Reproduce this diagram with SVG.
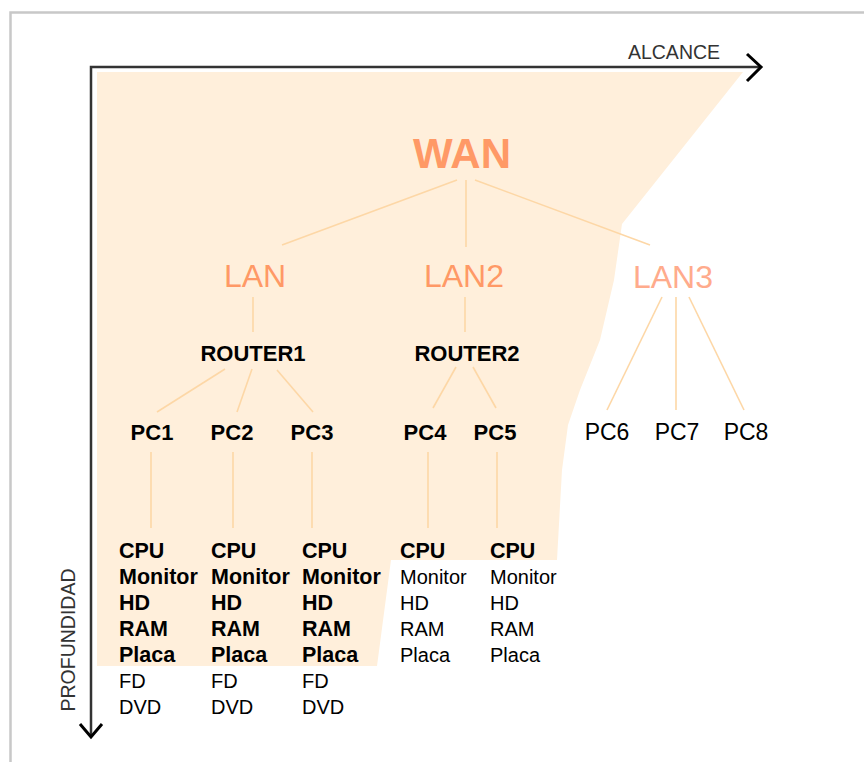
<svg xmlns="http://www.w3.org/2000/svg" width="864" height="762" viewBox="0 0 864 762">
  <style>
    text { font-family: "Liberation Sans", Arial, sans-serif; }
    .net { fill: #ff9966; text-anchor: middle; }
    .wan { font-size: 42px; font-weight: bold; }
    .lan { font-size: 32px; }
    .lan3 { font-size: 32px; fill: #ffab8c; }
    .dev { font-size: 22px; font-weight: bold; fill: #000; text-anchor: middle; }
    .pcl { font-size: 23px; fill: #000; text-anchor: middle; }
    .part { font-size: 20px; fill: #000; }
    .partb { font-size: 21.5px; font-weight: bold; fill: #000; }
    .axis-label { font-size: 19.5px; fill: #333; }
    .link { stroke: #fdd7a6; stroke-width: 1.6; fill: none; }
    .axis { stroke: #333; stroke-width: 2.5; fill: none; }
    .head { stroke: #000; stroke-width: 3; fill: none; stroke-linejoin: miter; }
  </style>

  <!-- outer frame -->
  <path d="M10.5 762 V12.5 H864" fill="none" stroke="#c8c8c8" stroke-width="2.5"/>

  <!-- shaded area: depth/reach covered -->
  <path d="M97 72 H743 L622 224 L614 280 L600 340 L580 390 L568 425 L562 470 L557 560 H391 L377 666 H97 Z" fill="#ffefdb"/>

  <!-- axes -->
  <g id="axes">
    <path class="axis" d="M760 67 H91 V736"/>
    <polyline class="head" points="747,54 761,67 747,81"/>
    <polyline class="head" points="80,724 91,737 102,724"/>
    <text class="axis-label" x="674" y="59" text-anchor="middle">ALCANCE</text>
    <text class="axis-label" transform="translate(75 640) rotate(-90)" text-anchor="middle">PROFUNDIDAD</text>
  </g>

  <!-- connectors -->
  <g id="connectors">
    <line class="link" x1="457" y1="180" x2="282" y2="245"/>
    <line class="link" x1="466" y1="180" x2="466" y2="247"/>
    <line class="link" x1="475" y1="180" x2="650" y2="245"/>
    <line class="link" x1="253" y1="297" x2="253" y2="332"/>
    <line class="link" x1="465" y1="297" x2="465" y2="332"/>
    <line class="link" x1="662" y1="297" x2="607" y2="410"/>
    <line class="link" x1="676" y1="297" x2="676" y2="410"/>
    <line class="link" x1="689" y1="297" x2="744" y2="410"/>
    <line class="link" x1="225" y1="369" x2="157" y2="412"/>
    <line class="link" x1="252" y1="369" x2="237" y2="412"/>
    <line class="link" x1="277" y1="370" x2="313" y2="412"/>
    <line class="link" x1="456" y1="367" x2="433" y2="408"/>
    <line class="link" x1="473" y1="367" x2="496" y2="408"/>
    <line class="link" x1="151" y1="452" x2="151" y2="528"/>
    <line class="link" x1="233" y1="452" x2="233" y2="528"/>
    <line class="link" x1="312" y1="452" x2="312" y2="528"/>
    <line class="link" x1="428" y1="452" x2="428" y2="528"/>
    <line class="link" x1="497" y1="452" x2="497" y2="528"/>
  </g>

  <!-- network levels -->
  <g id="wan"><text class="net wan" x="462" y="168">WAN</text></g>
  <g id="lan"><text class="net lan" x="255" y="287">LAN</text></g>
  <g id="lan2"><text class="net lan" x="464" y="287">LAN2</text></g>
  <g id="lan3"><text class="net lan3" x="673" y="288">LAN3</text></g>

  <g id="router1"><text class="dev" x="253" y="361">ROUTER1</text></g>
  <g id="router2"><text class="dev" x="467" y="361">ROUTER2</text></g>

  <g id="pc1"><text class="dev" x="152" y="440">PC1</text></g>
  <g id="pc2"><text class="dev" x="232" y="440">PC2</text></g>
  <g id="pc3"><text class="dev" x="312" y="440">PC3</text></g>
  <g id="pc4"><text class="dev" x="425" y="440">PC4</text></g>
  <g id="pc5"><text class="dev" x="495" y="440">PC5</text></g>
  <g id="pc6"><text class="pcl" x="607" y="440">PC6</text></g>
  <g id="pc7"><text class="pcl" x="677" y="440">PC7</text></g>
  <g id="pc8"><text class="pcl" x="746" y="440">PC8</text></g>

  <!-- hardware lists -->
  <g id="parts-pc1">
    <text class="partb" x="119" y="558">CPU</text>
    <text class="partb" x="119" y="584">Monitor</text>
    <text class="partb" x="119" y="610">HD</text>
    <text class="partb" x="119" y="636">RAM</text>
    <text class="partb" x="119" y="662">Placa</text>
    <text class="part" x="119" y="688">FD</text>
    <text class="part" x="119" y="714">DVD</text>
  </g>
  <g id="parts-pc2">
    <text class="partb" x="211" y="558">CPU</text>
    <text class="partb" x="211" y="584">Monitor</text>
    <text class="partb" x="211" y="610">HD</text>
    <text class="partb" x="211" y="636">RAM</text>
    <text class="partb" x="211" y="662">Placa</text>
    <text class="part" x="211" y="688">FD</text>
    <text class="part" x="211" y="714">DVD</text>
  </g>
  <g id="parts-pc3">
    <text class="partb" x="302" y="558">CPU</text>
    <text class="partb" x="302" y="584">Monitor</text>
    <text class="partb" x="302" y="610">HD</text>
    <text class="partb" x="302" y="636">RAM</text>
    <text class="partb" x="302" y="662">Placa</text>
    <text class="part" x="302" y="688">FD</text>
    <text class="part" x="302" y="714">DVD</text>
  </g>
  <g id="parts-pc4">
    <text class="partb" x="400" y="558">CPU</text>
    <text class="part" x="400" y="584">Monitor</text>
    <text class="part" x="400" y="610">HD</text>
    <text class="part" x="400" y="636">RAM</text>
    <text class="part" x="400" y="662">Placa</text>
  </g>
  <g id="parts-pc5">
    <text class="partb" x="490" y="558">CPU</text>
    <text class="part" x="490" y="584">Monitor</text>
    <text class="part" x="490" y="610">HD</text>
    <text class="part" x="490" y="636">RAM</text>
    <text class="part" x="490" y="662">Placa</text>
  </g>
</svg>
